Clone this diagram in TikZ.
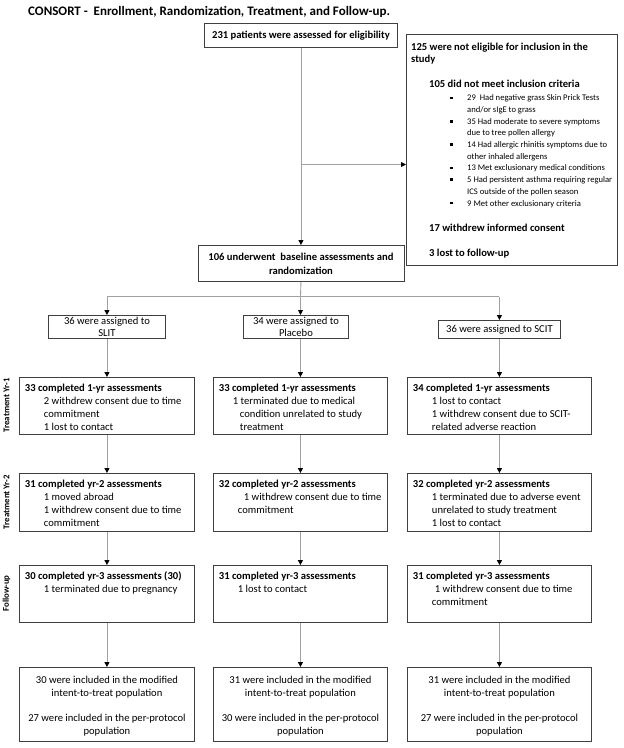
\documentclass[tikz,border=0pt]{standalone}
\usepackage{fontspec}
\setmainfont{Carlito}
\usetikzlibrary{arrows.meta}
\definecolor{boxline}{HTML}{404040}
\definecolor{connc}{HTML}{A0A0A0}
\newcommand{\cbx}[3]{\parbox[c][#2][t]{#1}{\raggedright\leftskip=5.5pt\rule{0pt}{14pt}#3}}
\newcommand{\fbx}[3]{\parbox[c][#2][t]{#1}{\centering\rule{0pt}{16.5pt}#3}}
\newcommand{\ind}[1]{\hspace*{#1pt}}
\newcommand{\hb}{\fontsize{10.6}{13}\selectfont\bfseries}
\newcommand{\sqb}{\rule[1.8pt]{2.5pt}{2.5pt}}
\tikzset{
  box/.style={draw=boxline, line width=0.9pt, inner sep=0pt, font=\fontsize{10.6}{13}\selectfont},
  linetext/.style={inner sep=0pt, anchor=base west},
  conn/.style={draw=connc, line width=0.9pt, -{Triangle[length=5pt,width=5pt,color=black]}},
  plain/.style={draw=connc, line width=0.9pt},
  side/.style={rotate=90, inner sep=0pt, font=\fontsize{8.8}{10}\selectfont\bfseries},
}
\begin{document}
\begin{tikzpicture}[x=1pt,y=-1pt]
\path[use as bounding box] (0,0) rectangle (624,748);

% title
\node[linetext, font=\fontsize{13}{15}\selectfont\bfseries] (title) at (28,15.5)
  {CONSORT -\ \ Enrollment, Randomization, Treatment, and Follow-up.};

% enrollment
\node[box, font=\hb, minimum width=193pt, minimum height=24pt, anchor=north west] (assess) at (204,23)
  {231 patients were assessed for eligibility};

% exclusion box
\node[box, line width=1.1pt, minimum width=211pt, minimum height=231pt, anchor=north west] (excl) at (406,34) {};
\node[linetext, font=\hb] (ex1) at (411,50.2) {125 were not eligible for inclusion in the};
\node[linetext, font=\hb] (ex2) at (411,62.4) {study};
\node[linetext, font=\hb] (ex3) at (429,87.5) {105 did not meet inclusion criteria};
\node[inner sep=0pt, anchor=north west, font=\fontsize{8.6}{11.67}\selectfont] (exlist) at (450,92.6)
{\begin{tabular}{@{}l@{\hspace{14.5pt}}l@{}}
\sqb & 29\ \ Had negative grass Skin Prick Tests\\
     & and/or sIgE to grass\\
\sqb & 35 Had moderate to severe symptoms\\
     & due to tree pollen allergy\\
\sqb & 14 Had allergic rhinitis symptoms due to\\
     & other inhaled allergens\\
\sqb & 13 Met exclusionary medical conditions\\
\sqb & 5 Had persistent asthma requiring regular\\
     & ICS outside of the pollen season\\
\sqb & 9 Met other exclusionary criteria
\end{tabular}};
\node[linetext, font=\hb] (ex4) at (429,231.5) {17 withdrew informed consent};
\node[linetext, font=\hb] (ex5) at (429,256.5) {3 lost to follow-up};

% randomization
\node[box, font=\fontsize{10.6}{14}\selectfont\bfseries, align=center, minimum width=206pt, minimum height=36pt, anchor=north west] (rand) at (197.5,245)
  {106 underwent\ \ baseline assessments and\\randomization};

% allocation
\node[box, font=\fontsize{10.6}{12}\selectfont, align=center, minimum width=117pt, minimum height=23pt, anchor=north west] (aslit) at (48,315)
  {36 were assigned to\\SLIT};
\node[box, font=\fontsize{10.6}{12}\selectfont, align=center, minimum width=105pt, minimum height=23pt, anchor=north west] (aplac) at (243,315)
  {34 were assigned to\\Placebo};
\node[box, align=center, minimum width=122pt, minimum height=18pt, anchor=north west] (ascit) at (438,320)
  {36 were assigned to SCIT};

% side labels
\node[side] (lab1) at (6.5,405.5) {Treatment Yr-1};
\node[side] (lab2) at (6.5,502) {Treatment Yr-2};
\node[side] (lab3) at (6.5,593.5) {Follow-up};

% year 1
\node[box, anchor=north west] (ya1) at (19,377) {\cbx{175pt}{57pt}{\textbf{33 completed 1-yr assessments}\\\ind{19}2 withdrew consent due to time\\\ind{19}commitment\\\ind{19}1 lost to contact}};
\node[box, anchor=north west] (ya2) at (213,377) {\cbx{174pt}{57pt}{\textbf{33 completed 1-yr assessments}\\\ind{14}1 terminated due to medical\\\ind{21}condition unrelated to study\\\ind{21}treatment}};
\node[box, anchor=north west] (ya3) at (407,377) {\cbx{184pt}{57pt}{\textbf{34 completed 1-yr assessments}\\\ind{19}1 lost to contact\\\ind{19}1 withdrew consent due to SCIT-\\\ind{19}related adverse reaction}};

% year 2
\node[box, anchor=north west] (yb1) at (19,473) {\cbx{175pt}{58pt}{\textbf{31 completed yr-2 assessments}\\\ind{19}1 moved abroad\\\ind{19}1 withdrew consent due to time\\\ind{19}commitment}};
\node[box, anchor=north west] (yb2) at (213,473) {\cbx{174pt}{58pt}{\textbf{32 completed yr-2 assessments}\\\ind{25}1 withdrew consent due to time\\\ind{19}commitment}};
\node[box, anchor=north west] (yb3) at (407,473) {\cbx{184pt}{58pt}{\textbf{32 completed yr-2 assessments}\\\ind{19}1 terminated due to adverse event\\\ind{19}unrelated to study treatment\\\ind{19}1 lost to contact}};

% year 3
\node[box, anchor=north west] (yc1) at (19,565) {\cbx{175pt}{57pt}{\textbf{30 completed yr-3 assessments (30)}\\\ind{19}1 terminated due to pregnancy}};
\node[box, anchor=north west] (yc2) at (213,565) {\cbx{174pt}{57pt}{\textbf{31 completed yr-3 assessments}\\\ind{19}1 lost to contact}};
\node[box, anchor=north west] (yc3) at (407,565) {\cbx{184pt}{57pt}{\textbf{31 completed yr-3 assessments}\\\ind{22}1 withdrew consent due to time\\\ind{19}commitment}};

% final
\node[box, anchor=north west] (f1) at (19,667) {\fbx{175pt}{74pt}{30 were included in the modified\\intent-to-treat population\\[12pt]27 were included in the per-protocol\\population}};
\node[box, anchor=north west] (f2) at (213,667) {\fbx{174pt}{74pt}{31 were included in the modified\\intent-to-treat population\\[12pt]30 were included in the per-protocol\\population}};
\node[box, anchor=north west] (f3) at (407,667) {\fbx{184pt}{74pt}{31 were included in the modified\\intent-to-treat population\\[12pt]27 were included in the per-protocol\\population}};

% connectors
\coordinate (br) at (300.5,164.5);
\coordinate (split) at (300.5,296.5);
\draw[conn] (assess.south) -- (rand.north);
\draw[conn] (br) -- (br -| excl.west);
\draw[plain] (rand.south) -- (split);
\draw[plain] (split -| aslit.north) -- (split -| ascit.north);
\draw[conn] (split -| aslit.north) -- (aslit.north);
\draw[conn] (split) -- (split |- aplac.north);
\draw[conn] (split -| ascit.north) -- (ascit.north);
\draw[conn] (aslit.south) -- (ya1.north);
\draw[conn] (ya2.north |- aplac.south) -- (ya2.north);
\draw[conn] (ya3.north |- ascit.south) -- (ya3.north);
\foreach \i in {1,2,3}{
  \draw[conn] (ya\i.south) -- (yb\i.north);
  \draw[conn] (yb\i.south) -- (yc\i.north);
  \draw[conn] (yc\i.south) -- (f\i.north);
}
\end{tikzpicture}
\end{document}
